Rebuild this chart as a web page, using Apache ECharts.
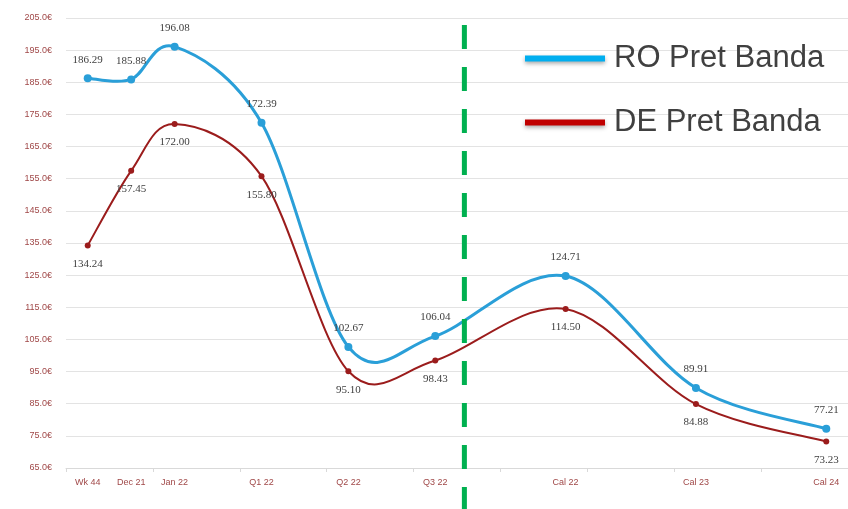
<!DOCTYPE html>
<html>
<head>
<meta charset="utf-8">
<script src="https://cdn.jsdelivr.net/npm/echarts@6/dist/echarts.min.js"></script>
<style>html,body{margin:0;padding:0;background:#fff;}#c{width:848px;height:509px;}</style>
</head>
<body>
<div id="c"></div>
<script>
// Category labels and their slot on an 18-slot date-like axis
const categories = ['Wk 44', 'Dec 21', 'Jan 22', 'Q1 22', 'Q2 22', 'Q3 22', 'Cal 22', 'Cal 23', 'Cal 24'];
const slots = [0, 1, 2, 4, 6, 8, 11, 14, 17];
const slotCount = 18;
const roValues = [186.29, 185.88, 196.08, 172.39, 102.67, 106.04, 124.71, 89.91, 77.21];
const deValues = [134.24, 157.45, 172.00, 155.80, 95.10, 98.43, 114.50, 84.88, 73.23];
const seriesNames = ['RO Pret Banda', 'DE Pret Banda'];
const dividerAt = 9.17; // position of the green dashed separator (slot units)

const xCenters = slots.map(s => s + 0.5);
const roData = xCenters.map((x, i) => [x, roValues[i]]);
const deData = xCenters.map((x, i) => [x, deValues[i]]);
const labelByX = {};
xCenters.forEach((x, i) => { labelByX[x] = categories[i]; });
const tickValues = [];
for (let t = 0; t <= slotCount; t += 2) tickValues.push(t);

// Excel-like (Catmull-Rom) smoothed line drawn from the data through the axes
function smoothRenderer(points, color, width) {
  return function (params, api) {
    const i = params.dataIndex;
    const n = points.length;
    if (i >= n - 1) return null;
    const c = k => api.coord(points[Math.max(0, Math.min(n - 1, k))]);
    const p0 = c(i - 1), p1 = c(i), p2 = c(i + 1), p3 = c(i + 2);
    const t = 1 / 6;
    return {
      type: 'bezierCurve',
      shape: {
        x1: p1[0], y1: p1[1], x2: p2[0], y2: p2[1],
        cpx1: p1[0] + (p2[0] - p0[0]) * t, cpy1: p1[1] + (p2[1] - p0[1]) * t,
        cpx2: p2[0] - (p3[0] - p1[0]) * t, cpy2: p2[1] - (p3[1] - p1[1]) * t
      },
      style: { stroke: color, lineWidth: width, fill: null, lineCap: 'round' },
      silent: true
    };
  };
}

const chart = echarts.init(document.getElementById('c'));
const labelFont = { fontFamily: 'Liberation Serif', fontSize: 11, color: '#404040' };
const roColor = '#2A9FD8', deColor = '#9B1C1C';
chart.setOption({
  animation: false,
  grid: { left: 66, right: -1, top: 18, bottom: 41, containLabel: false },
  legend: {
    orient: 'vertical', left: 520, top: 38, itemGap: 33,
    icon: 'rect', itemWidth: 80, itemHeight: 6,
    textStyle: { fontSize: 31, color: '#404040', fontFamily: 'Liberation Sans', padding: [0, 0, 0, 4] },
    data: [
      { name: seriesNames[0], itemStyle: { color: '#00AEEF', shadowBlur: 4, shadowColor: 'rgba(0,0,0,0.35)', shadowOffsetY: 2 } },
      { name: seriesNames[1], itemStyle: { color: '#C00000', shadowBlur: 4, shadowColor: 'rgba(0,0,0,0.35)', shadowOffsetY: 2 } }
    ]
  },
  xAxis: {
    type: 'value', min: 0, max: slotCount,
    splitLine: { show: false },
    axisLine: { onZero: false, lineStyle: { color: '#D9D9D9' } },
    axisTick: { show: true, length: 4, customValues: tickValues, lineStyle: { color: '#D9D9D9' } },
    axisLabel: { customValues: xCenters, fontSize: 9, color: '#A04848', fontFamily: 'Liberation Sans', margin: 10,
      formatter: v => labelByX[v] || '' }
  },
  yAxis: {
    type: 'value', min: 65, max: 205, interval: 10,
    axisLine: { show: false }, axisTick: { show: false },
    splitLine: { lineStyle: { color: '#E3E3E3', width: 1 } },
    axisLabel: { fontSize: 9, color: '#A04848', fontFamily: 'Liberation Sans', margin: 14,
      formatter: v => v.toFixed(1) + '€' }
  },
  series: [
    {
      name: 'ro-curve', type: 'custom', data: roData, renderItem: smoothRenderer(roData, roColor, 3),
      encode: { x: 0, y: 1 }, z: 3, clip: false
    },
    {
      name: 'de-curve', type: 'custom', data: deData, renderItem: smoothRenderer(deData, deColor, 2),
      encode: { x: 0, y: 1 }, z: 2, clip: false
    },
    {
      name: seriesNames[0], type: 'line', data: roData,
      symbol: 'circle', symbolSize: 8,
      lineStyle: { color: roColor, width: 0, opacity: 0 }, itemStyle: { color: roColor },
      label: { show: true, position: 'top', distance: 9, ...labelFont, formatter: p => p.value[1].toFixed(2) },
      z: 4
    },
    {
      name: seriesNames[1], type: 'line', data: deData,
      symbol: 'circle', symbolSize: 6,
      lineStyle: { color: deColor, width: 0, opacity: 0 }, itemStyle: { color: deColor },
      label: { show: true, position: 'bottom', distance: 10, ...labelFont, formatter: p => p.value[1].toFixed(2) },
      z: 4
    }
  ]
});

const dx = chart.convertToPixel({ xAxisIndex: 0 }, dividerAt);
chart.setOption({
  graphic: [{
    type: 'line', z: 10,
    shape: { x1: dx, y1: 25, x2: dx, y2: 509 },
    style: { stroke: '#00B050', lineWidth: 5, lineDash: [24, 18] }
  }]
});
</script>
</body>
</html>
